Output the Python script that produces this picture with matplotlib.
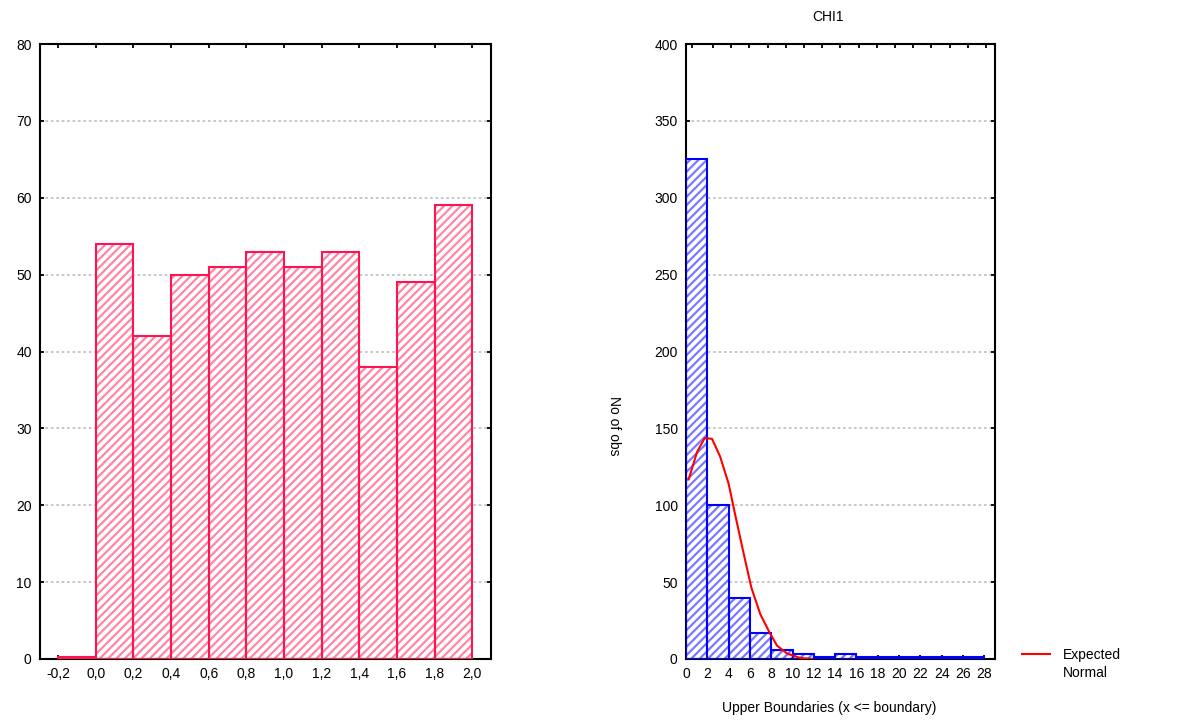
import matplotlib
matplotlib.use("Agg")
import matplotlib.pyplot as plt
from matplotlib.lines import Line2D
import numpy as np

plt.rcParams["font.family"] = ["Liberation Sans", "DejaVu Sans"]
plt.rcParams["font.size"] = 10
plt.rcParams["hatch.linewidth"] = 1.6

# left histogram
left_edges = [-0.2, 0.0, 0.2, 0.4, 0.6, 0.8, 1.0, 1.2, 1.4, 1.6, 1.8, 2.0]
left_counts = [0.3, 54, 42, 50, 51, 53, 51, 53, 38, 49, 59]
left_ticks = [-0.2, 0.0, 0.2, 0.4, 0.6, 0.8, 1.0, 1.2, 1.4, 1.6, 1.8, 2.0]

# right histogram (CHI1)
right_edges = [0, 2, 4, 6, 8, 10, 12, 14, 16, 18, 20, 22, 24, 26, 28]
right_counts = [325, 100, 40, 17, 6, 3, 1, 3, 1, 1, 1, 1, 1, 1]
right_ticks = list(range(0, 29, 2))
right_top_ticks = [0.56, 2.50, 4.26, 5.95, 7.67, 9.39, 11.11, 12.80, 14.49,
                   16.21, 17.93, 19.62, 21.35, 23.04, 24.76, 26.48, 28.20]

# expected normal curve
normal_x = [0.25, 1.03, 1.75, 2.44, 3.2, 4.0, 4.63, 5.35, 6.13, 6.98, 7.86,
            8.54, 9.5, 10.7, 11.8]
normal_y = [116.8, 134.5, 143.7, 143.2, 131.7, 114, 93.4, 70.5, 46.5, 29, 17,
            8.7, 3.5, 0.7, 0.0]

PINK_STRIPE = "#ff86a4"
PINK_EDGE = "#ff1450"
BLUE_STRIPE = "#7a7aff"
BLUE_EDGE = "#0000ff"
GRID = "#c4c4c4"


def style_axes(ax):
    for s in ax.spines.values():
        s.set_linewidth(1.5)
    ax.tick_params(direction="in", length=3, width=1.3, top=True, right=True,
                   pad=6, labelsize=10)
    ax.yaxis.grid(True, linestyle=(0, (1.5, 1.5)), color=GRID, linewidth=1.3)
    ax.set_axisbelow(True)


def hatched_bars(ax, edges, counts, stripe, edge):
    lefts = np.array(edges[:-1])
    widths = np.diff(edges)
    ax.bar(lefts, counts, width=widths, align="edge", facecolor="white",
           edgecolor=stripe, hatch="////", linewidth=0, zorder=2)
    ax.bar(lefts, counts, width=widths, align="edge", fill=False,
           edgecolor=edge, linewidth=1.5, zorder=3)


fig = plt.figure(figsize=(11.85, 7.2), dpi=100)

ax1 = fig.add_axes([40 / 1185, 61 / 720, 451 / 1185, 615 / 720])
style_axes(ax1)
hatched_bars(ax1, left_edges, left_counts, PINK_STRIPE, PINK_EDGE)
ax1.set_xlim(-0.296, 2.1)
ax1.set_ylim(0, 80)
ax1.set_yticks(range(0, 81, 10))
ax1.set_xticks(left_ticks)
ax1.set_xticklabels([f"{t:.1f}".replace(".", ",") for t in left_ticks])

ax2 = fig.add_axes([686 / 1185, 61 / 720, 309 / 1185, 615 / 720])
style_axes(ax2)
ax2.tick_params(top=False)
hatched_bars(ax2, right_edges, right_counts, BLUE_STRIPE, BLUE_EDGE)
ax2.plot(normal_x, normal_y, color="red", linewidth=1.5, zorder=4)
ax2.set_xlim(0, 29)
ax2.set_ylim(0, 400)
ax2.set_yticks(range(0, 401, 50))
ax2.set_xticks(right_ticks)

top = ax2.twiny()
top.set_xlim(ax2.get_xlim())
top.set_xticks(right_top_ticks)
top.tick_params(direction="in", length=3, width=1.3, labeltop=False)
for s in top.spines.values():
    s.set_visible(False)

fig.text(828 / 1185, 1 - 17 / 720, "CHI1", ha="center", va="center")
fig.text(829 / 1185, 1 - 708 / 720, "Upper Boundaries (x <= boundary)",
         ha="center", va="center")
fig.text(614 / 1185, 1 - 426 / 720, "No of obs", rotation=270,
         ha="center", va="center")

fig.add_artist(Line2D([1022 / 1185, 1050 / 1185], [1 - 654 / 720, 1 - 654 / 720],
                      color="red", linewidth=1.5))
fig.text(1063 / 1185, 1 - 664 / 720, "Expected\nNormal", ha="left",
         va="center", linespacing=1.45)

fig.savefig("out.png", dpi=100)
